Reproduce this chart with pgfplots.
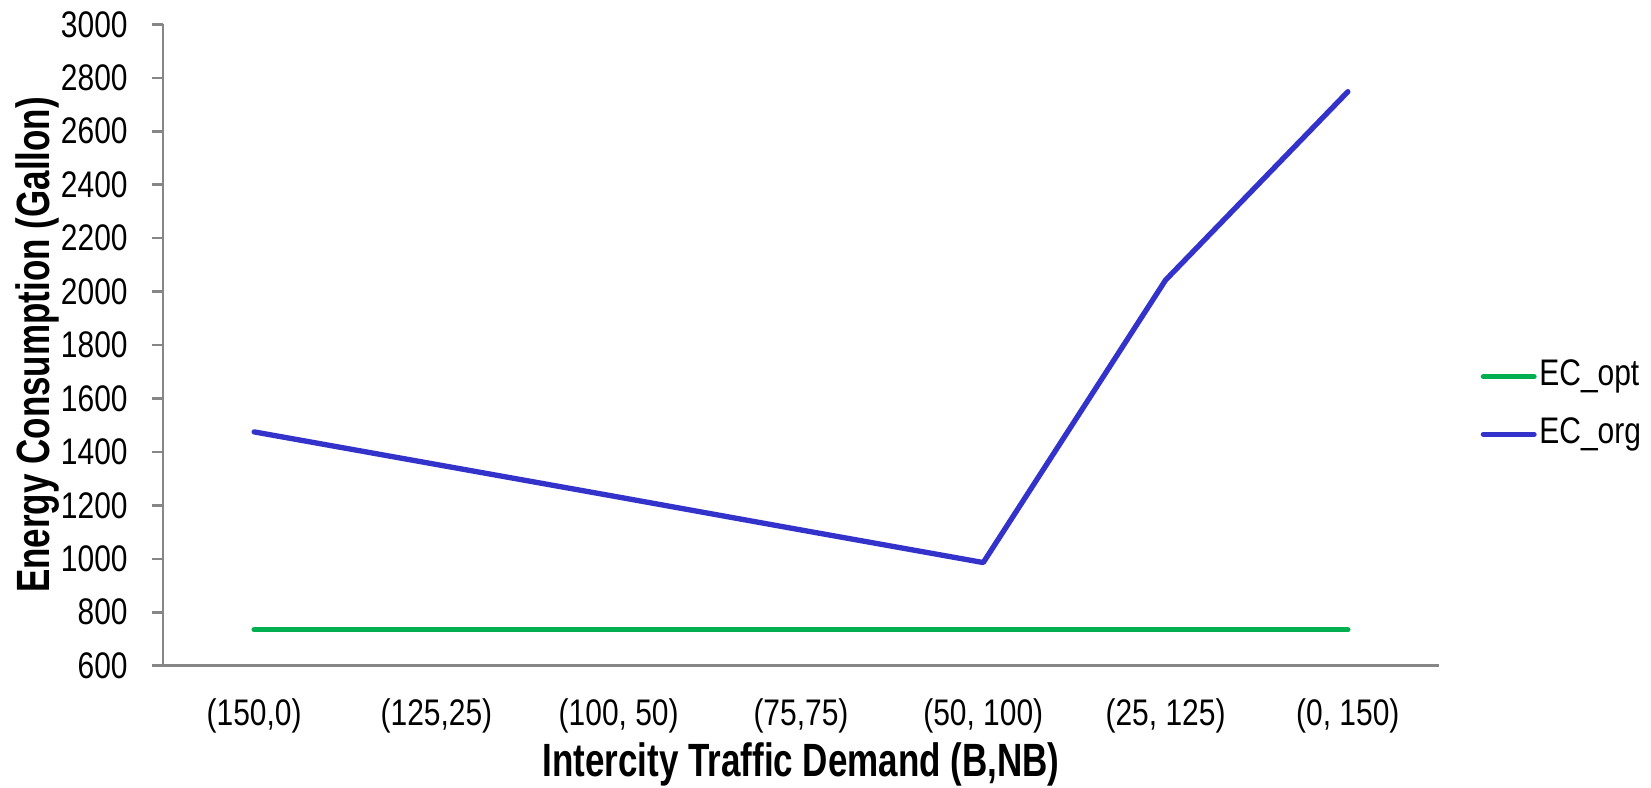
\documentclass[border=0pt]{standalone}
\usepackage{fontspec}
\setmainfont{Liberation Sans}
\newfontfamily\tickfont[FakeStretch=0.81]{Liberation Sans}
\newfontfamily\labfont[FakeStretch=0.75]{Liberation Sans}
\usepackage{pgfplots}
\pgfplotsset{compat=1.18}
\definecolor{ecopt}{RGB}{0,176,80}
\definecolor{ecorg}{RGB}{51,51,204}
\definecolor{axisgray}{RGB}{134,134,134}

\begin{document}
\begin{tikzpicture}
\begin{axis}[
  scale only axis, width=382.8pt, height=192.4pt,
  xmin=-0.5, xmax=6.5, ymin=600, ymax=3000,
  axis x line*=bottom, axis y line*=left,
  axis line style={draw=axisgray, line width=0.75pt},
  xtick={0,...,6},
  xticklabels={{(150,0)},{(125,25)},{(100, 50)},{(75,75)},{(50, 100)},{(25, 125)},{(0, 150)}},
  ytick={600,800,...,3000},
  x tick style={draw=none},
  y tick style={draw=axisgray, line width=0.75pt, xshift=-3.3pt},
  major tick length=3.3pt,
  scaled y ticks=false,
  /pgf/number format/1000 sep={},
  /pgf/number format/assume math mode=true,
  ticklabel style={font=\tickfont\fontsize{11.1}{13}\selectfont, inner sep=0pt},
  xticklabel style={anchor=base, yshift=-17.8pt},
  yticklabel style={anchor=east, xshift=-10.4pt},
  xlabel={Intercity Traffic Demand (B,NB)},
  ylabel={Energy Consumption (Gallon)},
  label style={font=\labfont\bfseries\fontsize{14}{16}\selectfont, inner sep=0pt},
  xlabel style={at={(axis description cs:0.5,-0.1731)}, anchor=base},
  ylabel style={at={(axis description cs:-0.0886,0.5)}, anchor=base},
  legend image code/.code={\draw[#1] (0pt,0pt) -- (15.2pt,0pt);},
  legend style={at={(axis description cs:1.0327,0.4057)}, anchor=west,
    draw=none, fill=none, inner sep=0pt, outer sep=0pt,
    row sep=6.8pt, column sep=0.8pt,
    font=\tickfont\fontsize{11.1}{13}\selectfont,
    nodes={inner sep=0pt, text height=8pt, text depth=2.5pt}},
  legend cell align=left,
]
\addplot[ecopt, line width=1.6pt, line cap=round, line join=round] coordinates {
  (0,735) (1,735) (2,735) (3,735) (4,735) (5,735) (6,735)};
\addlegendentry{EC\_opt}
\addplot[ecorg, line width=1.6pt, line cap=round, line join=round] coordinates {
  (0,1475) (1,1353) (2,1231) (3,1108) (4,986) (5,2043) (6,2748)};
\addlegendentry{EC\_org}
\end{axis}
\path[use as bounding box] (-48.9pt,-36.39pt) rectangle (446.4pt,199.71pt);
\end{tikzpicture}
\end{document}
